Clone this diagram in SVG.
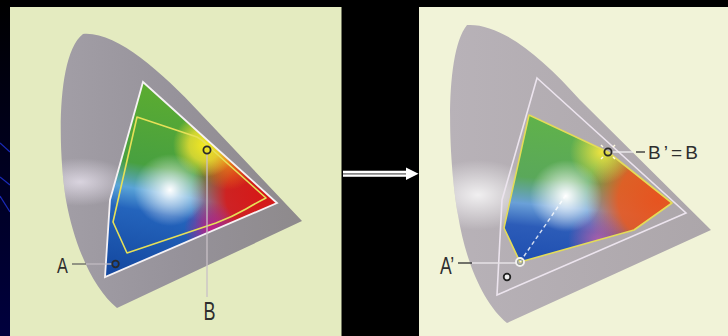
<svg xmlns="http://www.w3.org/2000/svg" width="728" height="336" viewBox="0 0 728 336">
<defs>
<style>
.lbl{font-family:"Liberation Sans",Arial,sans-serif;fill:#2e2e2e;}
.ptdark{fill:none;stroke:#2a2a2a;stroke-width:1.8;}
</style>
<linearGradient id="strip" x1="0" y1="0" x2="0" y2="1">
<stop offset="0" stop-color="#000000"/><stop offset="0.4" stop-color="#00001a"/><stop offset="1" stop-color="#00003e"/>
</linearGradient>
<linearGradient id="grayL" x1="0" y1="0" x2="1" y2="0">
<stop offset="0" stop-color="#a29ea6"/><stop offset="0.5" stop-color="#96929a"/><stop offset="1" stop-color="#8e8a8c"/>
</linearGradient>
<radialGradient id="glowL" cx="80" cy="182" r="40" gradientUnits="userSpaceOnUse" gradientTransform="translate(80,182) scale(1.3,0.6) translate(-80,-182)">
<stop offset="0" stop-color="#ece6f2" stop-opacity="0.75"/><stop offset="1" stop-color="#ece6f2" stop-opacity="0"/>
</radialGradient>
<linearGradient id="grayR" x1="0" y1="0" x2="1" y2="0">
<stop offset="0" stop-color="#b8b2b8"/><stop offset="1" stop-color="#aca6aa"/>
</linearGradient>
<radialGradient id="glowR" cx="478" cy="195" r="50" gradientUnits="userSpaceOnUse" gradientTransform="translate(478,195) scale(1.2,0.7) translate(-478,-195)">
<stop offset="0" stop-color="#ffffff" stop-opacity="0.8"/><stop offset="1" stop-color="#ffffff" stop-opacity="0"/>
</radialGradient>
<clipPath id="clipL"><polygon points="143,82 277,203 105,277 110,200"/></clipPath>
<clipPath id="clipR"><polygon points="529,115 608,152 672,203 634,230 520,262 504,228"/></clipPath>
<linearGradient id="baseL" x1="143" y1="82" x2="110" y2="272" gradientUnits="userSpaceOnUse">
<stop offset="0" stop-color="#5cac30"/><stop offset="0.42" stop-color="#48a040"/><stop offset="0.55" stop-color="#5aa4d8"/><stop offset="0.66" stop-color="#2464bc"/><stop offset="1" stop-color="#1448a0"/>
</linearGradient>
<radialGradient id="redL" cx="262" cy="196" r="72" gradientUnits="userSpaceOnUse">
<stop offset="0" stop-color="#d61818"/><stop offset="0.5" stop-color="#d41c1c" stop-opacity="0.95"/><stop offset="1" stop-color="#d41c1c" stop-opacity="0"/>
</radialGradient>
<radialGradient id="orangeL" cx="228" cy="160" r="30" gradientUnits="userSpaceOnUse">
<stop offset="0" stop-color="#f07818"/><stop offset="1" stop-color="#f07818" stop-opacity="0"/>
</radialGradient>
<radialGradient id="yellowL" cx="205" cy="145" r="32" gradientUnits="userSpaceOnUse">
<stop offset="0" stop-color="#f4e820"/><stop offset="0.5" stop-color="#eee030" stop-opacity="0.8"/><stop offset="1" stop-color="#eee030" stop-opacity="0"/>
</radialGradient>
<radialGradient id="magL" cx="212" cy="230" r="28" gradientUnits="userSpaceOnUse">
<stop offset="0" stop-color="#c81c88" stop-opacity="0.95"/><stop offset="1" stop-color="#c81c88" stop-opacity="0"/>
</radialGradient>
<radialGradient id="whiteL" cx="170" cy="190" r="36" gradientUnits="userSpaceOnUse">
<stop offset="0" stop-color="#ffffff"/><stop offset="0.3" stop-color="#ffffff" stop-opacity="0.65"/><stop offset="1" stop-color="#ffffff" stop-opacity="0"/>
</radialGradient>
<linearGradient id="baseR" x1="529" y1="115" x2="515" y2="262" gradientUnits="userSpaceOnUse">
<stop offset="0" stop-color="#60b24a"/><stop offset="0.42" stop-color="#5aa85a"/><stop offset="0.6" stop-color="#6aa0d8"/><stop offset="0.75" stop-color="#2c5cb8"/><stop offset="1" stop-color="#1e4eb0"/>
</linearGradient>
<radialGradient id="redR" cx="658" cy="200" r="72" gradientUnits="userSpaceOnUse">
<stop offset="0" stop-color="#e65420"/><stop offset="0.55" stop-color="#e85a22" stop-opacity="0.92"/><stop offset="1" stop-color="#e85a22" stop-opacity="0"/>
</radialGradient>
<radialGradient id="yellowR" cx="602" cy="152" r="32" gradientUnits="userSpaceOnUse">
<stop offset="0" stop-color="#f0e440"/><stop offset="1" stop-color="#f0e440" stop-opacity="0"/>
</radialGradient>
<radialGradient id="magR" cx="598" cy="240" r="30" gradientUnits="userSpaceOnUse">
<stop offset="0" stop-color="#c860a8" stop-opacity="0.8"/><stop offset="1" stop-color="#c860a8" stop-opacity="0"/>
</radialGradient>
<radialGradient id="whiteR" cx="566" cy="196" r="36" gradientUnits="userSpaceOnUse">
<stop offset="0" stop-color="#ffffff"/><stop offset="0.3" stop-color="#ffffff" stop-opacity="0.7"/><stop offset="1" stop-color="#ffffff" stop-opacity="0"/>
</radialGradient>
</defs>

<rect x="0" y="0" width="728" height="336" fill="#000000"/>
<rect x="0" y="0" width="10" height="336" fill="url(#strip)"/>
<g stroke="#1a2ab8" stroke-width="1.2">
<line x1="0" y1="143" x2="10" y2="152"/>
<line x1="0" y1="177" x2="10" y2="185"/>
<line x1="0" y1="196" x2="10" y2="212"/>
</g>

<g id="panel-left">
<rect x="10" y="7" width="331.5" height="329" fill="#e4ebc0"/>
<path d="M 83,34 C 115,31 160,70 200,113 L 302,221 L 117,308 C 95,290 75,250 66,200 C 58,150 56,55 83,34 Z" fill="url(#grayL)"/>
<path d="M 83,34 C 115,31 160,70 200,113 L 302,221 L 117,308 C 95,290 75,250 66,200 C 58,150 56,55 83,34 Z" fill="url(#glowL)"/>
<g id="gamut-A" clip-path="url(#clipL)">
<rect x="100" y="78" width="182" height="204" fill="url(#baseL)"/>
<rect x="100" y="78" width="182" height="204" fill="url(#redL)"/>
<rect x="100" y="78" width="182" height="204" fill="url(#orangeL)"/>
<rect x="100" y="78" width="182" height="204" fill="url(#yellowL)"/>
<rect x="100" y="78" width="182" height="204" fill="url(#magL)"/>
<rect x="100" y="78" width="182" height="204" fill="url(#whiteL)"/>
</g>
<polygon points="143,82 277,203 105,277 110,200" fill="none" stroke="#f6f2f4" stroke-width="1.8" stroke-linejoin="miter"/>
<path d="M 137,117 L 197,137 Q 203,140 208,146 L 266,198 Q 256,203 246,209 Q 232,217 216,223 L 127,253 L 113,222 Z" fill="none" stroke="#e6e058" stroke-width="1.6" stroke-linejoin="round"/>
</g>

<g id="point-B">
<line x1="207" y1="154" x2="207" y2="297" stroke="#c8c0c6" stroke-width="1.3"/>
<circle cx="207" cy="150" r="3.6" class="ptdark"/>
<text class="lbl" font-size="25" text-anchor="middle" transform="translate(209.5,320) scale(0.72,1)">B</text>
</g>
<g id="point-A">
<line x1="72" y1="264" x2="86" y2="264" stroke="#5a5a5a" stroke-width="1.2"/>
<line x1="86" y1="264" x2="112" y2="264" stroke="#c4bcc4" stroke-width="1.2"/>
<circle cx="115.5" cy="264" r="3.3" class="ptdark"/>
<text class="lbl" font-size="22" text-anchor="middle" transform="translate(62.5,273) scale(0.74,1)">A</text>
</g>

<g id="connectors">
<rect x="343" y="170.5" width="65" height="6.5" fill="#8a8a8a"/>
<line x1="343" y1="172" x2="408" y2="172" stroke="#ffffff" stroke-width="1.8"/>
<line x1="343" y1="175.6" x2="408" y2="175.6" stroke="#ffffff" stroke-width="1.8"/>
<polygon points="406,167.5 418.5,173.8 406,180" fill="#ffffff"/>
</g>

<g id="panel-right">
<rect x="419" y="7" width="309" height="329" fill="#f1f3d8"/>
<path d="M 467,25 C 500,23 540,55 580,100 L 711,230 L 507,323 C 485,305 466,265 458,215 C 449,165 443,55 467,25 Z" fill="url(#grayR)"/>
<path d="M 467,25 C 500,23 540,55 580,100 L 711,230 L 507,323 C 485,305 466,265 458,215 C 449,165 443,55 467,25 Z" fill="url(#glowR)"/>
<polygon points="537,78 686,213 497,295 502,200" fill="none" stroke="#ece4ee" stroke-width="1.6"/>
<g id="gamut-B" clip-path="url(#clipR)">
<rect x="500" y="110" width="176" height="156" fill="url(#baseR)"/>
<rect x="500" y="110" width="176" height="156" fill="url(#redR)"/>
<rect x="500" y="110" width="176" height="156" fill="url(#yellowR)"/>
<rect x="500" y="110" width="176" height="156" fill="url(#magR)"/>
<rect x="500" y="110" width="176" height="156" fill="url(#whiteR)"/>
</g>
<polygon points="529,115 608,152 672,203 634,230 520,262 504,228" fill="none" stroke="#e4dc58" stroke-width="1.6" stroke-linejoin="round"/>
<line x1="520" y1="262" x2="566" y2="195" stroke="#ffffff" stroke-opacity="0.8" stroke-width="1.5" stroke-dasharray="4,3"/>
</g>

<g id="point-B-prime">
<g stroke="#fffbe0" stroke-width="1.5">
<line x1="603" y1="147" x2="601" y2="145"/>
<line x1="613" y1="147" x2="615" y2="145"/>
<line x1="603" y1="157" x2="601" y2="159"/>
<line x1="613" y1="157" x2="615" y2="159"/>
</g>
<line x1="612" y1="152" x2="633" y2="152" stroke="#f2f0f2" stroke-width="1.3"/>
<line x1="636" y1="152" x2="645" y2="152" stroke="#3a3a3a" stroke-width="1.4"/>
<circle cx="608" cy="152" r="3.6" class="ptdark"/>
<text class="lbl" x="648" y="158.5" font-size="19" textLength="50" lengthAdjust="spacing">B’=B</text>
</g>
<g id="point-A-prime">
<line x1="458" y1="263" x2="472" y2="263" stroke="#3a3a3a" stroke-width="1.4"/>
<line x1="472" y1="263" x2="516" y2="263" stroke="#e6e2e6" stroke-width="1.3"/>
<circle cx="520" cy="262" r="4" fill="none" stroke="#f2f0f0" stroke-width="2"/>
<circle cx="520" cy="262" r="2.6" fill="none" stroke="#8a9a80" stroke-width="0.8"/>
<text class="lbl" font-size="23" transform="translate(440,273.5) scale(0.76,1)">A’</text>
</g>
<g id="point-A-orig">
<circle cx="507" cy="277" r="3.3" fill="#f0f0f0" stroke="#222222" stroke-width="1.8"/>
</g>
</svg>
